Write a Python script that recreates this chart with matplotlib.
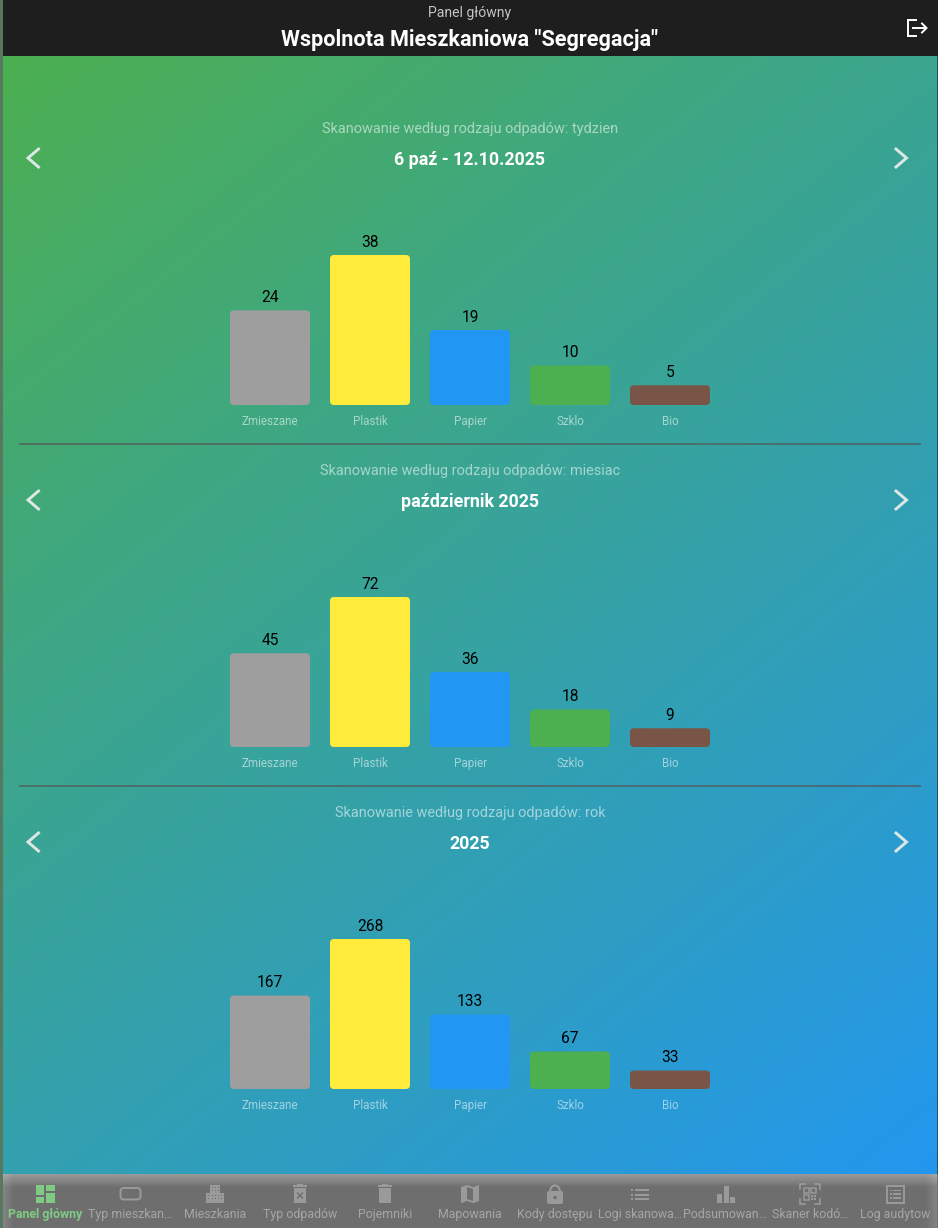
import numpy as np
import matplotlib
matplotlib.use("Agg")
import matplotlib.pyplot as plt
from matplotlib.patches import FancyBboxPatch, Rectangle, Polygon, Circle

plt.rcParams['font.family'] = ['Roboto', 'DejaVu Sans']

categories = ["Zmieszane", "Plastik", "Papier", "Szklo", "Bio"]
bar_colors = ["#9E9E9E", "#FFEB3B", "#2196F3", "#4CAF50", "#795548"]
week_values = [24, 38, 19, 10, 5]
month_values = [45, 72, 36, 18, 9]
year_values = [167, 268, 133, 67, 33]
section_titles = ["Skanowanie według rodzaju odpadów: tydzien",
                  "Skanowanie według rodzaju odpadów: miesiac",
                  "Skanowanie według rodzaju odpadów: rok"]
section_periods = ["6 paź - 12.10.2025", "październik 2025", "2025"]
nav_labels = ["Panel główny", "Typ mieszkan…", "Mieszkania", "Typ odpadów", "Pojemniki",
              "Mapowania", "Kody dostępu", "Logi skanowa…", "Podsumowan…", "Skaner kodó…", "Log audytow"]

W, H = 938, 1228
DPI = 100
PX = 72 / DPI
fig = plt.figure(figsize=(W / DPI, H / DPI), dpi=DPI)

# full-figure pixel canvas
bg = fig.add_axes([0, 0, 1, 1], zorder=0)
bg.axis("off")

# diagonal gradient
x0, y0, x1, y1 = 3, 56, 938, 1228
xx, yy = np.meshgrid(np.arange(x0, x1) + .5, np.arange(y0, y1) + .5)
dx, dy = x1 - x0, y1 - y0
t = ((xx - x0) * dx + (yy - y0) * dy) / (dx * dx + dy * dy)
c0 = np.array([0x4C, 0xAF, 0x50]) / 255
c1 = np.array([0x21, 0x96, 0xF3]) / 255
grad = c0[None, None, :] * (1 - t[..., None]) + c1[None, None, :] * t[..., None]
bg.imshow(grad, extent=(x0, x1, y1, y0), aspect="auto", zorder=0, interpolation="bilinear")

# left strip, right hairline, header
bg.add_patch(Rectangle((0, 0), 3, H, fc="#55785F", ec="none", zorder=1))
bg.add_patch(Rectangle((937, 56), 1, H - 56, fc="#27506A", ec="none", zorder=1))
bg.add_patch(Rectangle((3, 0), W - 3, 56, fc="#1E1E1E", ec="none", zorder=1))
bg.text(470, 12.5, "Panel główny", ha="center", va="center", fontsize=14 * PX, color="#C4C4C4", zorder=3)
bg.text(470, 40, 'Wspolnota Mieszkaniowa "Segregacja"', ha="center", va="center",
        fontsize=21.7 * PX, color="white", fontweight="bold", zorder=3)
# logout icon
bg.plot([916, 908, 908, 916], [20, 20, 36, 36], color="white", lw=1.4, solid_joinstyle="miter", zorder=3)
bg.plot([913, 926], [28, 28], color="white", lw=1.4, zorder=3)
bg.plot([922, 926.5, 922], [23.5, 28, 32.5], color="white", lw=1.4, solid_joinstyle="miter", zorder=3)

# bottom bar
bar_top = 1174
bg.add_patch(Rectangle((3, bar_top), W - 3, H - bar_top, fc="#6E6E6E", ec="none", zorder=1))
shade_img = np.zeros((14, 1, 4))
shade_img[..., :3] = 1.0
shade_img[..., 3] = 0.3 * (1 - np.linspace(0, 1, 14)[:, None])
bg.imshow(shade_img, extent=(3, W - 1, bar_top + 14, bar_top), aspect="auto", zorder=1.5)
side = np.zeros((1, 12, 4))
side[..., :3] = 1.0
side[..., 3] = 0.15 * np.linspace(0, 1, 12)[None, :]
bg.imshow(side, extent=(W - 13, W - 1, H, bar_top), aspect="auto", zorder=1.5)
bg.imshow(side[:, ::-1], extent=(3, 15, H, bar_top), aspect="auto", zorder=1.5)
bg.set_xlim(0, W)
bg.set_ylim(H, 0)

# section furniture and bars
OFFSET = 342
all_values = [week_values, month_values, year_values]
for i, values in enumerate(all_values):
    off = i * OFFSET
    bg.text(470, 129 + off, section_titles[i], ha="center", va="center", fontsize=14.5 * PX,
            color="#FFFFFF", alpha=.55, zorder=3)
    bg.text(470, 160 + off, section_periods[i], ha="center", va="center", fontsize=17.7 * PX,
            color="white", fontweight="bold", zorder=3)
    bg.plot([38.5, 28, 38.5], [149 + off, 158 + off, 167 + off], color="#DDE7E4", lw=2.1,
            solid_joinstyle="miter", zorder=3)
    bg.plot([896, 906.5, 896], [149 + off, 158 + off, 167 + off], color="#DDE7E4", lw=2.1,
            solid_joinstyle="miter", zorder=3)
    if i < 2:
        bg.add_patch(Rectangle((19, 443 + off), 902, 2, fc="#555555", alpha=.65, ec="none", zorder=2))

    # bar axes: x unit = 100 px, y max = 150 px
    left, right = 220, 720
    top, bottom = 255 + off, 405 + off
    ax = fig.add_axes([left / W, 1 - bottom / H, (right - left) / W, (bottom - top) / H], zorder=2)
    ax.patch.set_visible(False)
    ymax = max(values)
    ax.set_xlim(-0.5, 4.5)
    ax.set_ylim(0, ymax)
    for s in ax.spines.values():
        s.set_visible(False)
    ax.set_yticks([])
    ax.set_xticks(range(len(categories)))
    ax.set_xticklabels(categories, fontsize=11.6 * PX, color="#FFFFFF", alpha=.55)
    ax.tick_params(axis="x", length=0, pad=7)
    aspect = (ymax / 150) / (1 / 100)
    for k, v in enumerate(values):
        ax.add_patch(FancyBboxPatch((k - .4, 0), .8, v, boxstyle="round,pad=0,rounding_size=0.04",
                                    mutation_aspect=aspect, fc=bar_colors[k], ec="none", clip_on=False))
        ax.annotate(str(v), (k, v), xytext=(0, 12.8), textcoords="offset pixels",
                    ha="center", va="center", fontsize=15.5 * PX, color="black", annotation_clip=False)

# nav labels and icons
nav_x = [45 + 85 * i for i in range(11)]
ic = "#9A9A9A"
for i, lab in enumerate(nav_labels):
    active = i == 0
    bg.text(nav_x[i] + (0 if i else .5), 1214.5, lab, ha="center", va="center", fontsize=12.35 * PX,
            color="#7FCB83" if active else "#A6A6A6", fontweight="bold" if active else "normal", zorder=3)


def rect(x, y, w, h, c=ic):
    bg.add_patch(Rectangle((x, y), w, h, fc=c, ec="none", zorder=3))


# dashboard
g = "#7FCB83"
rect(36, 1185, 8, 10, g); rect(46, 1185, 9, 5.5, g); rect(36, 1197, 8, 6, g); rect(46, 1192.5, 9, 10.5, g)
# tv-like outline
bg.add_patch(FancyBboxPatch((120.5, 1188), 20, 11.5, boxstyle="round,pad=0,rounding_size=3.5", fc="none", ec=ic, lw=1.4, zorder=3))
# apartment
rect(206, 1193, 18, 10); rect(210, 1185, 10, 8)
for a in (212, 215, 218):
    for b in (1187, 1190):
        rect(a, b, 1.4, 1.4, "#6E6E6E")
for a in (208, 212, 215, 218, 221):
    for b in (1195, 1198):
        rect(a, b, 1.4, 1.4, "#6E6E6E")
# trash with x
rect(294, 1188, 12, 15); rect(293, 1185, 14, 2); rect(297, 1184, 6, 1.5)
bg.plot([297.5, 302.5], [1193, 1198], color="#6E6E6E", lw=1, zorder=4)
bg.plot([302.5, 297.5], [1193, 1198], color="#6E6E6E", lw=1, zorder=4)
# trash
rect(379, 1188, 12, 15); rect(378, 1185, 14, 2); rect(382, 1184, 6, 1.5)
# map
bg.add_patch(Polygon([[461, 1187], [467, 1185], [473, 1187], [479, 1185], [479, 1201], [473, 1203], [467, 1201], [461, 1203]],
                     fc=ic, ec="none", zorder=3))
bg.add_patch(Polygon([[467, 1187], [473, 1189], [473, 1201], [467, 1199]], fc="#6E6E6E", ec="none", zorder=4))
# lock
bg.add_patch(FancyBboxPatch((547, 1191), 16, 13, boxstyle="round,pad=0,rounding_size=2", fc=ic, ec="none", zorder=3))
th = np.linspace(np.pi, 2 * np.pi, 30)
bg.plot(555 + 4.8 * np.cos(th), 1191 + 5.5 * np.sin(th), color=ic, lw=1.5, zorder=3)
bg.add_patch(Circle((555, 1197.5), 1.7, fc="#6E6E6E", ec="none", zorder=4))
# list
for b in (1189, 1193.5, 1198):
    rect(631, b, 2, 2); rect(635, b, 14, 2)
# bars
rect(717, 1194, 5, 9); rect(723.5, 1186, 5, 17); rect(730, 1197, 5, 6)
# qr
qx, qy = 810, 1194
for sx in (-1, 1):
    for sy in (-1, 1):
        bg.plot([qx + sx * 10, qx + sx * 10, qx + sx * 5], [qy + sy * 5, qy + sy * 10, qy + sy * 10],
                color=ic, lw=1.2, solid_joinstyle="miter", zorder=3)
for a, b in ((-6, -6), (1, -6), (-6, 1)):
    bg.add_patch(Rectangle((qx + a, qy + b), 5, 5, fc="none", ec=ic, lw=1.1, zorder=3))
for a, b in ((1, 1), (4, 1), (2.5, 2.5), (1, 4), (4, 4)):
    rect(qx + a, qy + b, 1.6, 1.6)
# list alt
bg.add_patch(Rectangle((886.5, 1185.5), 17, 17, fc="none", ec=ic, lw=1.4, zorder=3))
for b in (1189.5, 1193.2, 1197):
    rect(889.5, b, 2, 1.6); rect(893, b, 8, 1.6)

fig.savefig("out.png", dpi=DPI)
